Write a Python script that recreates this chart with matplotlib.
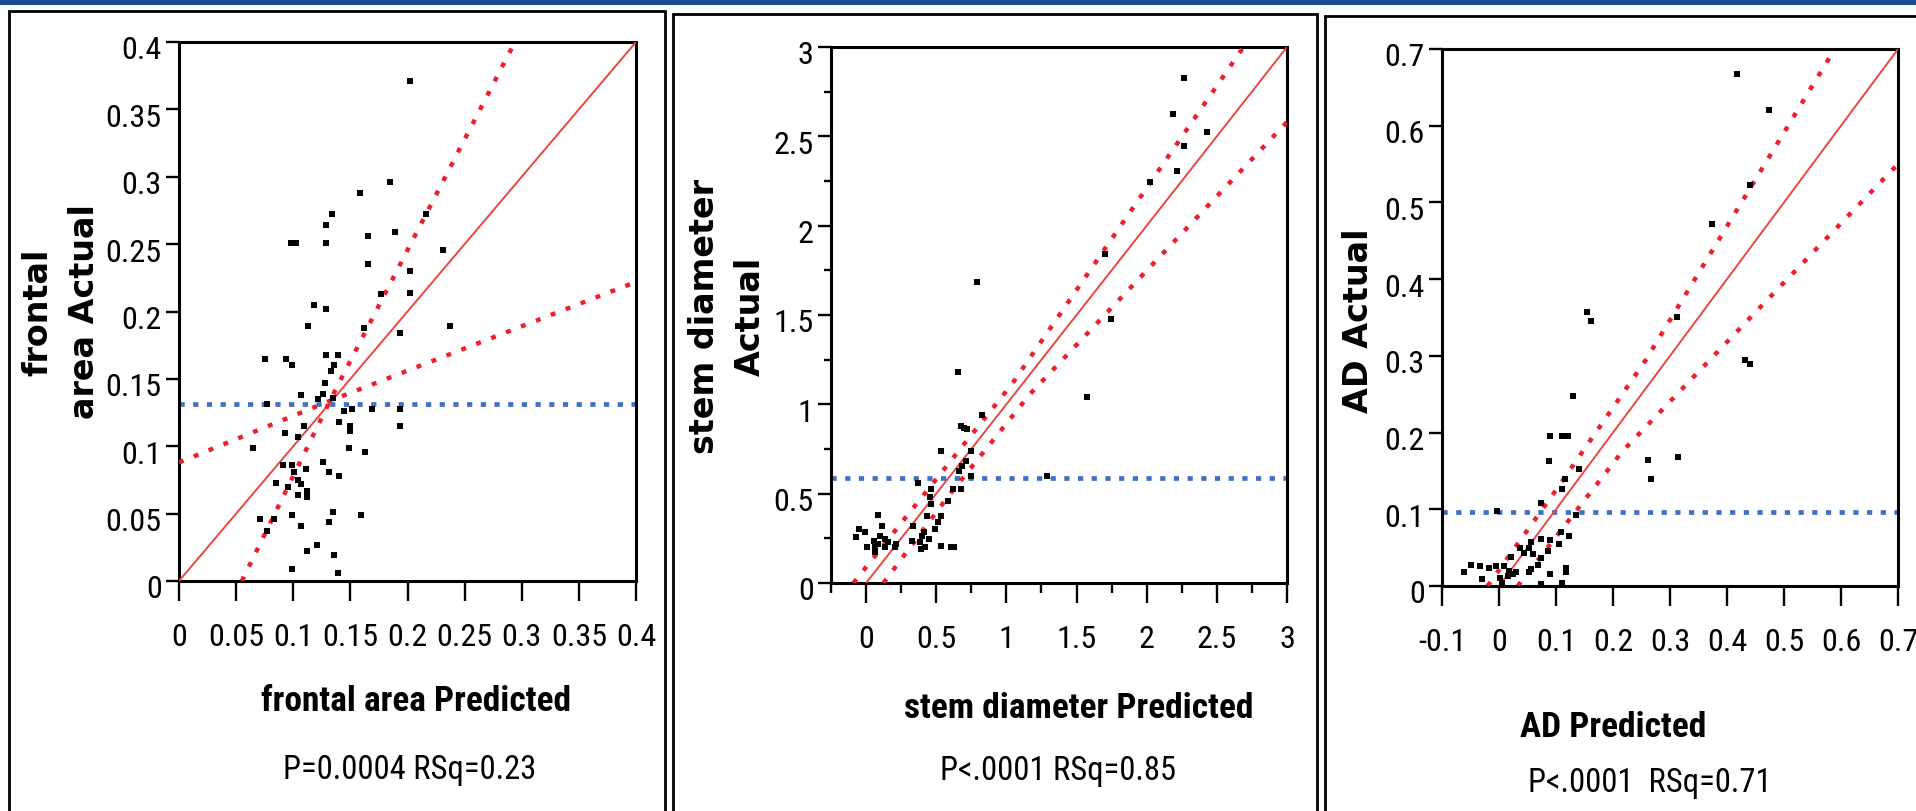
import os
import matplotlib
matplotlib.use("Agg")
import matplotlib.pyplot as plt
import matplotlib.transforms as mtransforms
from matplotlib import font_manager
from matplotlib.font_manager import FontProperties
from matplotlib.textpath import TextPath
from matplotlib.patches import Rectangle
from matplotlib.ticker import MultipleLocator

W, H = 1916, 812

# ---- frontal area ----
fa_pred = [0.202, 0.185, 0.158, 0.134, 0.129, 0.216, 0.098, 0.102, 0.129, 0.165, 0.189, 0.231, 0.165, 0.202, 0.202, 0.177,
           0.118, 0.129, 0.113, 0.162, 0.193, 0.237, 0.075, 0.094, 0.099, 0.129, 0.139, 0.136, 0.133, 0.169, 0.193, 0.193, 0.163, 0.159,
           0.128, 0.126, 0.107, 0.122, 0.135, 0.077, 0.144, 0.151, 0.140, 0.150, 0.150, 0.109, 0.093, 0.104, 0.065, 0.149, 0.091, 0.099,
           0.101, 0.111, 0.126, 0.131, 0.140, 0.085, 0.095, 0.104, 0.107, 0.104, 0.112, 0.112, 0.099, 0.071, 0.083, 0.077, 0.107, 0.135,
           0.131, 0.121, 0.112, 0.136, 0.099, 0.139]
fa_act = [0.371, 0.296, 0.288, 0.272, 0.264, 0.272, 0.251, 0.251, 0.251, 0.256, 0.259, 0.246, 0.235, 0.230, 0.214, 0.213,
          0.205, 0.202, 0.189, 0.188, 0.184, 0.189, 0.165, 0.165, 0.160, 0.168, 0.168, 0.160, 0.156, 0.128, 0.128, 0.115, 0.096, 0.049,
          0.147, 0.139, 0.138, 0.135, 0.136, 0.131, 0.126, 0.128, 0.118, 0.115, 0.111, 0.115, 0.110, 0.107, 0.099, 0.099, 0.086, 0.086,
          0.081, 0.083, 0.088, 0.081, 0.078, 0.073, 0.070, 0.075, 0.072, 0.064, 0.067, 0.062, 0.049, 0.046, 0.046, 0.037, 0.041, 0.051,
          0.044, 0.027, 0.022, 0.019, 0.009, 0.006]
fa_fit = [0.0, 0.4]
fa_ci1_x = [0.055, 0.137, 0.294]
fa_ci1_y = [0.0, 0.142, 0.4]
fa_ci2_x = [0.0, 0.133, 0.4]
fa_ci2_y = [0.088, 0.134, 0.222]
fa_mean = 0.1316

# ---- stem diameter ----
sd_pred = [2.268, 2.185, 2.430, 2.268, 2.216, 2.023, 1.703, 0.790, 0.658, 1.575, 1.743, 1.291,
           0.824, 0.676, 0.695, 0.722, 0.746, 0.535, 0.711, 0.687, 0.664, 0.751, 0.371, 0.676, 0.617, 0.464,
           0.582, 0.453, 0.464, 0.436, 0.535, 0.511, 0.488, 0.335, 0.084, 0.113, -0.047, -0.009, -0.075, 0.413,
           0.399, 0.446, 0.382, 0.324, 0.101, 0.136, 0.159, 0.054, 0.066, 0.066, 0.007, 0.136, 0.207, 0.423,
           0.394, 0.535, 0.605, 0.629, 0.214, 0.084]
sd_act = [2.827, 2.624, 2.526, 2.444, 2.304, 2.246, 1.841, 1.683, 1.182, 1.039, 1.477, 0.597,
          0.940, 0.880, 0.868, 0.862, 0.740, 0.740, 0.684, 0.656, 0.628, 0.597, 0.560, 0.526, 0.526, 0.526,
          0.461, 0.480, 0.442, 0.377, 0.377, 0.340, 0.302, 0.321, 0.383, 0.321, 0.302, 0.283, 0.255, 0.283,
          0.265, 0.246, 0.228, 0.237, 0.265, 0.246, 0.228, 0.237, 0.200, 0.172, 0.200, 0.200, 0.200, 0.200,
          0.190, 0.209, 0.200, 0.200, 0.218, 0.218]
sd_fit = [0.0, 3.0]
sd_ci1_x = [-0.09, 0.6, 1.04, 2.69]
sd_ci1_y = [0.0, 0.68, 1.114, 3.0]
sd_ci2_x = [0.124, 0.6, 1.169, 3.0]
sd_ci2_y = [0.0, 0.50, 1.058, 2.58]
sd_mean = 0.586

# ---- AD ----
ad_pred = [0.417, 0.474, 0.441, 0.374, 0.154, 0.162, 0.312, 0.431, 0.441, 0.130, 0.090, 0.110, 0.121, 0.262, 0.314, 0.267,
           0.087, 0.140, 0.116, 0.110, 0.074, -0.004, 0.135, 0.122, 0.108, 0.106, 0.074, 0.089, 0.086, 0.056,
           0.052, 0.036, 0.059, 0.074, 0.068, 0.056, 0.052, 0.043, 0.021, 0.009, 0.018, 0.024, 0.030, 0.015,
           0.001, -0.005, -0.017, -0.033, -0.049, -0.061, -0.029, 0.006, 0.074, 0.089, 0.110, 0.118, 0.118]
ad_act = [0.667, 0.621, 0.523, 0.472, 0.357, 0.346, 0.351, 0.294, 0.290, 0.248, 0.196, 0.196, 0.196, 0.164, 0.168, 0.140,
          0.163, 0.153, 0.139, 0.126, 0.108, 0.098, 0.093, 0.065, 0.070, 0.055, 0.061, 0.060, 0.046, 0.057,
          0.049, 0.050, 0.042, 0.036, 0.027, 0.022, 0.018, 0.043, 0.038, 0.026, 0.020, 0.016, 0.018, 0.013,
          0.011, 0.026, 0.024, 0.026, 0.027, 0.018, 0.009, 0.004, 0.003, 0.016, 0.004, 0.024, 0.018]
ad_fit = [0.0, 0.7]
ad_ci1_x = [-0.02, 0.10, 0.257, 0.589]
ad_ci1_y = [0.0, 0.125, 0.294, 0.70]
ad_ci2_x = [0.033, 0.217, 0.472, 0.70]
ad_ci2_y = [0.0, 0.176, 0.374, 0.55]
ad_mean = 0.0965


def narrow_font(bold):
    # look for an installed narrow / condensed sans face, else plain Liberation Sans
    pref = ['liberation sans narrow', 'arial narrow', 'roboto condensed', 'noto sans',
            'open sans', 'dejavu sans', 'roboto', 'lato', 'inter']
    found = []
    for f in font_manager.fontManager.ttflist:
        nm = f.name.lower()
        fn = os.path.basename(f.fname).lower()
        cond = ('narrow' in nm or 'condensed' in nm or 'narrow' in fn or 'condensed' in fn
                or f.stretch in ('condensed', 'semi-condensed'))
        if not cond or 'mono' in nm or 'serif' in nm or 'cjk' in nm or f.style != 'normal':
            continue
        w = f.weight if isinstance(f.weight, (int, float)) else font_manager.weight_dict.get(f.weight, 400)
        if bold and w < 600:
            continue
        if not bold and not (350 <= w <= 500):
            continue
        rank = next((i for i, pn in enumerate(pref) if nm.startswith(pn)), len(pref))
        if 'semicondensed' in fn or 'extracondensed' in fn or f.stretch == 'semi-condensed':
            rank += 0.5
        found.append((rank, f.fname))
    if found:
        return FontProperties(fname=min(found)[1])
    return FontProperties(family='Liberation Sans', weight='bold' if bold else 'normal')


def fit_size(fp, text, base, target_px, slack):
    w = TextPath((0, 0), text, size=base, prop=fp).get_extents().width * 100 / 72
    return min(base, base * target_px * slack / w)


def sized(fp, size):
    q = fp.copy()
    q.set_size(size)
    return q


FP_REG = narrow_font(False)
FP_BOLD = narrow_font(True)
TICK_FS = fit_size(FP_REG, '0.35', 25, 51, 1.04)
XLAB_FS = fit_size(FP_BOLD, 'frontal area Predicted', 25.5, 281, 1.12)
STAT_FS = fit_size(FP_REG, 'P=0.0004 RSq=0.23', 23.5, 248, 1.1)
BOLDFAM = 'DejaVu Sans'

RED_DOT = '#ee1f2b'
RED_LINE = '#e8463f'
BLUE = '#3f6fc6'


def rect(x0, y0, x1, y1):
    return [x0 / W, 1 - y1 / H, (x1 - x0) / W, (y1 - y0) / H]


fig = plt.figure(figsize=(W / 100, H / 100), dpi=100)
fig.patch.set_facecolor('white')

# header band and panel boxes
fig.patches.append(Rectangle((0, 1 - 6 / H), 1, 6 / H, transform=fig.transFigure,
                             facecolor='#1d4b8f', edgecolor='none'))
for bx0, by0, bx1 in [(9, 12, 665), (673, 15, 1317), (1325, 17, 1940)]:
    fig.patches.append(Rectangle((bx0 / W, -0.02), (bx1 - bx0) / W, 1.02 - by0 / H,
                                 transform=fig.transFigure, fill=False,
                                 edgecolor='black', lw=2.0))

panels = [
    dict(pos=(179, 43, 636, 582), x=fa_pred, y=fa_act, fit=fa_fit,
         ci=[(fa_ci1_x, fa_ci1_y), (fa_ci2_x, fa_ci2_y)], mean=fa_mean,
         xlim=(0, 0.4), ylim=(0, 0.4), major=0.05, minor=None,
         xt=['0', '0.05', '0.1', '0.15', '0.2', '0.25', '0.3', '0.35', '0.4'],
         ylab='frontal\narea Actual', ylab_xy=(61, 312),
         xlab='frontal area Predicted', xlab_xy=(416, 702),
         stat='P=0.0004 RSq=0.23', stat_xy=(410, 770)),
    dict(pos=(831, 48, 1287, 584), x=sd_pred, y=sd_act, fit=sd_fit,
         ci=[(sd_ci1_x, sd_ci1_y), (sd_ci2_x, sd_ci2_y)], mean=sd_mean,
         xlim=(-0.25, 3), ylim=(0, 3), major=0.5, minor=0.25,
         xt=['0', '0.5', '1', '1.5', '2', '2.5', '3'],
         ylab='stem diameter\nActual', ylab_xy=(727, 316),
         xlab='stem diameter Predicted', xlab_xy=(1079, 708),
         stat='P<.0001 RSq=0.85', stat_xy=(1058, 771)),
    dict(pos=(1442, 50, 1898, 587), x=ad_pred, y=ad_act, fit=ad_fit,
         ci=[(ad_ci1_x, ad_ci1_y), (ad_ci2_x, ad_ci2_y)], mean=ad_mean,
         xlim=(-0.1, 0.7), ylim=(0, 0.7), major=0.1, minor=None,
         xt=['-0.1', '0', '0.1', '0.2', '0.3', '0.4', '0.5', '0.6', '0.7'],
         ylab='AD Actual', ylab_xy=(1358, 321),
         xlab='AD Predicted', xlab_xy=(1613, 728),
         stat='P<.0001  RSq=0.71', stat_xy=(1650, 783)),
]

shift = mtransforms.ScaledTranslation(0, -5 / 100, fig.dpi_scale_trans)
tick_fp = sized(FP_REG, TICK_FS)

for p in panels:
    ax = fig.add_axes(rect(*p['pos']))

    ax.axhline(p['mean'], color=BLUE, lw=3.4, linestyle=(0, (1.1, 1.8)), zorder=2)
    ax.plot(p['fit'], p['fit'], color=RED_LINE, lw=1.4, zorder=3)
    for cx, cy in p['ci']:
        ax.plot(cx, cy, color=RED_DOT, lw=3.2, linestyle=(0, (1.1, 2.5)), zorder=3)
    ax.plot(p['x'], p['y'], 's', color='black', ms=4.0, mew=0, zorder=4)

    ax.xaxis.set_major_locator(MultipleLocator(p['major']))
    ax.yaxis.set_major_locator(MultipleLocator(p['major']))
    if p['minor']:
        ax.xaxis.set_minor_locator(MultipleLocator(p['minor']))
        ax.yaxis.set_minor_locator(MultipleLocator(p['minor']))
    ax.set_xlim(*p['xlim'])
    ax.set_ylim(*p['ylim'])
    xt = [t for t in ax.get_xticks() if p['xlim'][0] - 1e-9 <= t <= p['xlim'][1] + 1e-9]
    ax.set_xticks(xt)
    if len(xt) == len(p['xt']) + 1:
        ax.set_xticklabels([''] + p['xt'])
    else:
        ax.set_xticklabels(p['xt'])
    yt = [t for t in ax.get_yticks() if p['ylim'][0] - 1e-9 <= t <= p['ylim'][1] + 1e-9]
    ax.set_yticks(yt)
    ax.set_yticklabels(['%g' % round(t, 3) for t in yt])
    ax.set_xlim(*p['xlim'])
    ax.set_ylim(*p['ylim'])

    for s in ax.spines.values():
        s.set_linewidth(2.2)
    ax.tick_params(axis='x', which='major', length=14.5, width=1.7, pad=15)
    ax.tick_params(axis='y', which='major', length=9.5, width=1.7, pad=3)
    ax.tick_params(axis='x', which='minor', length=7.5, width=1.7)
    ax.tick_params(axis='y', which='minor', length=5, width=1.7)
    for lab in ax.get_xticklabels() + ax.get_yticklabels():
        lab.set_fontproperties(tick_fp)
    for lab in ax.get_yticklabels():
        lab.set_transform(lab.get_transform() + shift)

    fig.text(p['ylab_xy'][0] / W, 1 - p['ylab_xy'][1] / H, p['ylab'], rotation=90,
             ha='center', va='center', multialignment='center', fontsize=24,
             fontweight='bold', family=BOLDFAM, linespacing=1.5)
    fig.text(p['xlab_xy'][0] / W, 1 - p['xlab_xy'][1] / H, p['xlab'],
             ha='center', va='center', fontproperties=sized(FP_BOLD, XLAB_FS))
    fig.text(p['stat_xy'][0] / W, 1 - p['stat_xy'][1] / H, p['stat'],
             ha='center', va='center', fontproperties=sized(FP_REG, STAT_FS))

fig.savefig('out.png', dpi=100, facecolor='white')
